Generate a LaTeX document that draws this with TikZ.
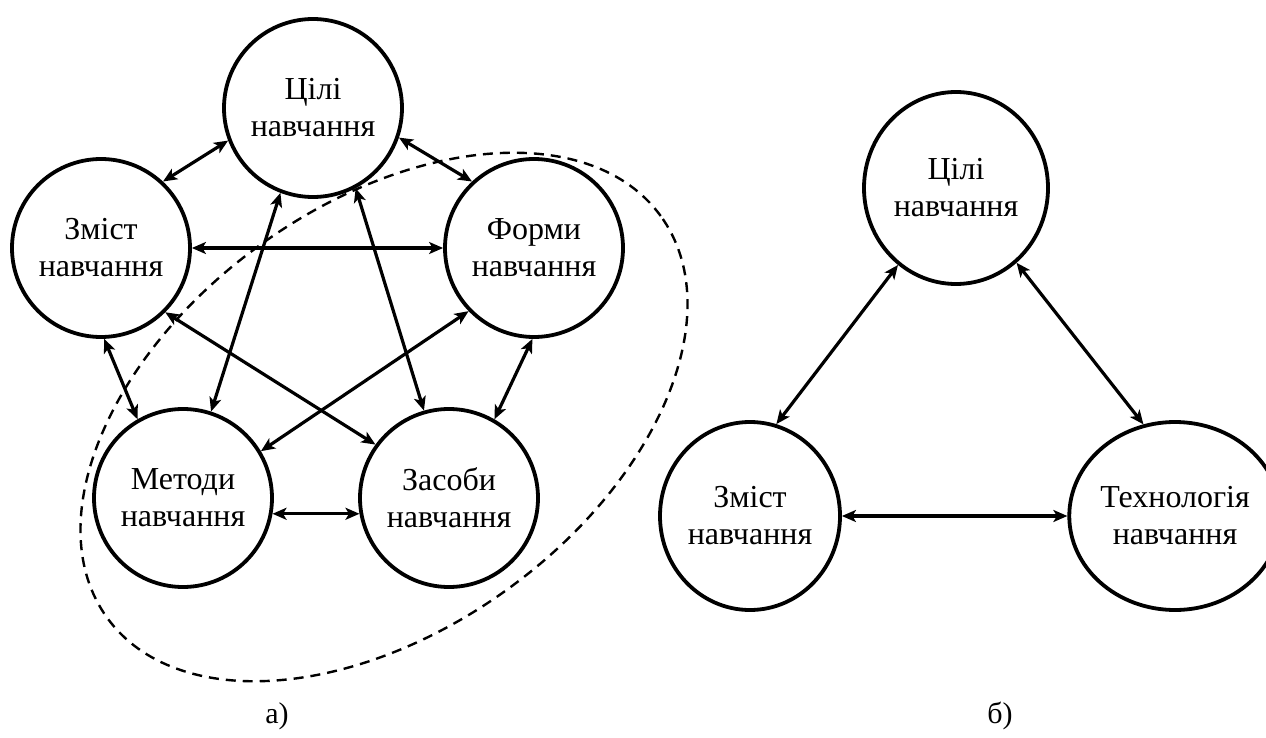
\documentclass[tikz,border=0pt]{standalone}
\usepackage{fontspec}
\setmainfont{Liberation Serif}
\usetikzlibrary{arrows.meta,shapes.geometric}

\tikzset{
  part/.style={circle, draw, line width=3.8pt, minimum size=178pt, inner sep=0pt,
    align=center, font=\fontsize{32}{37}\selectfont},
  partR/.style={ellipse, draw, line width=3.8pt, minimum width=180pt, minimum height=188pt,
    inner sep=0pt, align=center, font=\fontsize{32}{37}\selectfont},
  link/.style={line width=3.2pt, {Stealth[length=14pt,width=12pt,inset=3.5pt]}-{Stealth[length=14pt,width=12pt,inset=3.5pt]}},
  group/.style={line width=2.4pt, dash pattern=on 10pt off 7pt},
  caption/.style={font=\fontsize{30}{36}\selectfont}
}

\begin{document}
\begin{tikzpicture}[x=1pt, y=-1pt]
\useasboundingbox (0,0) rectangle (1266,738);

% five components of the learning system
\node[part] (aC) at (313,108) {Цілі\\навчання};
\node[part] (aZ) at (101,248) {Зміст\\навчання};
\node[part] (aF) at (534,248) {Форми\\навчання};
\node[part] (aM) at (183,498) {Методи\\навчання};
\node[part] (aS) at (449,498) {Засоби\\навчання};

\draw[link] (aC.201) -- (aZ.47);
\draw[link] (aC.-19) -- (aF.133);
\draw[link] (aZ.0) -- (aF.180);
\draw[link] (aC.249) -- (aM.72);
\draw[link] (aC.-62) -- (aS.106);
\draw[link] (aZ.-45) -- (aS.144);
\draw[link] (aF.224) -- (aM.31);
\draw[link] (aZ.-88) -- (aM.120);
\draw[link] (aF.-91) -- (aS.60);
\draw[link] (aM.-10) -- (aS.190);

% forms, methods and means grouped together
\draw[group, rotate around={36:(384,417)}] (384,417) ellipse [x radius=342pt, y radius=212pt];

% three-component system
\node[partR, minimum width=184pt, minimum height=192pt] (bC) at (956,188) {Цілі\\навчання};
\node[partR] (bZ) at (750,516) {Зміст\\навчання};
\node[partR] (bT) at (1175,516) {Технологія\\навчання};

\draw[link] (bC.233) -- (bZ.74);
\draw[link] (bC.-51) -- (bT.109);
\draw[link] (bZ.0) -- (bT.180);

\node[caption] (capA) at (277,716) {а)};
\node[caption] (capB) at (1000,716) {б)};
\end{tikzpicture}
\end{document}
